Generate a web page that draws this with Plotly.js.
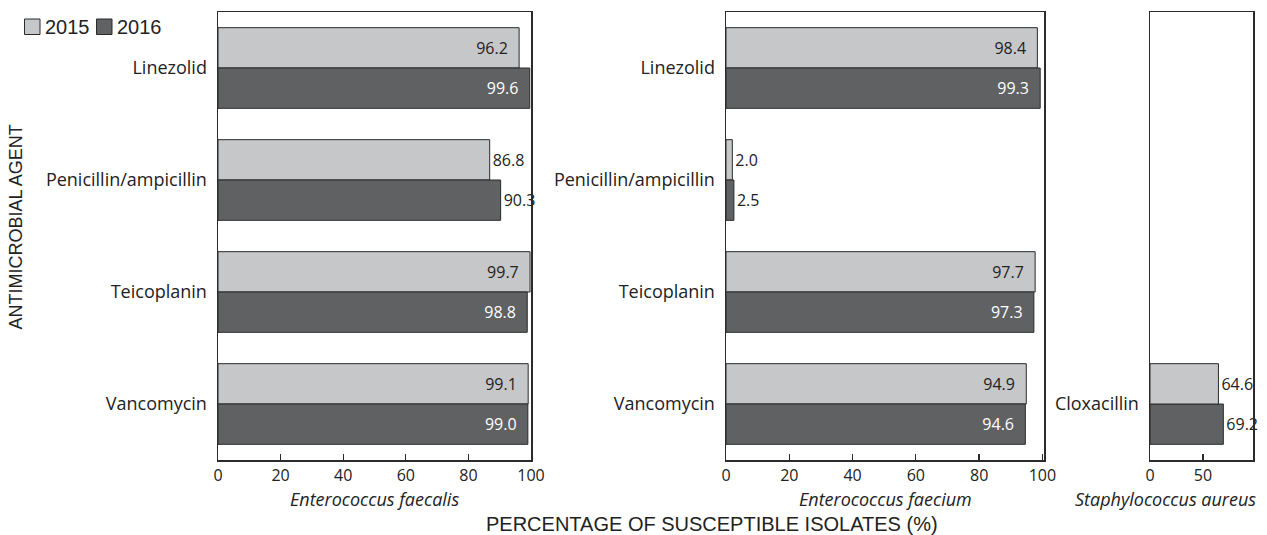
<!DOCTYPE html>
<html>
<head>
<meta charset="utf-8">
<script src="https://cdn.plot.ly/plotly-3.0.1.min.js"></script>
<style>html,body{margin:0;padding:0;background:#fff;}#chart{width:1267px;height:535px;}</style>
</head>
<body>
<div id="chart"></div>
<script>
// ---- data ----
const categories = ['Linezolid', 'Penicillin/ampicillin', 'Teicoplanin', 'Vancomycin'];
const faecalis2015 = [96.2, 86.8, 99.7, 99.1];
const faecalis2016 = [99.6, 90.3, 98.8, 99.0];
const faecium2015 = [98.4, 2.0, 97.7, 94.9];
const faecium2016 = [99.3, 2.5, 97.3, 94.6];
const aureusCategories = ['Cloxacillin'];
const aureus2015 = [64.6];
const aureus2016 = [69.2];
const seriesNames = ['2015', '2016'];
const panelTitles = ['Enterococcus faecalis', 'Enterococcus faecium', 'Staphylococcus aureus'];
const xTickValues = [0, 20, 40, 60, 80, 100];
const xTickValuesAureus = [0, 50];

// ---- styles ----
const W = 1267, H = 535;
const LIGHT = '#c6c7c9', DARK = '#606163', EDGE = '#2b2b2b';
const FONT = 'Open Sans, Noto Sans, sans-serif';
const SANS = 'Liberation Sans, Arial, sans-serif';

function pos(vals, thr) { return vals.map(v => v >= thr ? 'inside' : 'outside'); }
function txt(vals, thr) { return vals.map(v => v.toFixed(1) + (v >= thr ? '\u00a0\u00a0' : '')); }

function barTrace(x, y, name, isDark, xa, ya, thr) {
  return {
    type: 'bar', orientation: 'h', x: x, y: y, name: name,
    xaxis: xa, yaxis: ya, showlegend: false,
    marker: {color: isDark ? DARK : LIGHT, line: {color: EDGE, width: 1}},
    text: txt(x, thr), texttemplate: '%{text}', textposition: pos(x, thr),
    insidetextanchor: 'end', constraintext: 'none', cliponaxis: false,
    insidetextfont: {family: FONT, size: 16, color: isDark ? '#ffffff' : '#222222'},
    outsidetextfont: {family: FONT, size: 16, color: '#222222'},
    hoverinfo: 'x+y'
  };
}

const THR = 94;
const traces = [
  barTrace(faecalis2015, categories, seriesNames[0], false, 'x', 'y', THR),
  barTrace(faecalis2016, categories, seriesNames[1], true, 'x', 'y', THR),
  barTrace(faecium2015, categories, seriesNames[0], false, 'x2', 'y2', THR),
  barTrace(faecium2016, categories, seriesNames[1], true, 'x2', 'y2', THR),
  // panel 3 uses a normal (non-reversed) axis, so the 2016 trace goes first to sit below 2015
  barTrace(aureus2016, aureusCategories, seriesNames[1], true, 'x3', 'y3', 101),
  barTrace(aureus2015, aureusCategories, seriesNames[0], false, 'x3', 'y3', 101)
];

const ydom = [(H - 460) / H, (H - 12) / H];
function xax(domain, range, tickvals, anchor) {
  return {
    domain: domain, range: range, anchor: anchor, tickvals: tickvals,
    ticks: 'inside', ticklen: 6, tickwidth: 1.3, tickcolor: EDGE,
    showline: true, linecolor: EDGE, linewidth: 1.5, mirror: true,
    showgrid: false, zeroline: false, fixedrange: true,
    ticklabelstandoff: 0,
    tickfont: {family: FONT, size: 16, color: '#222'}
  };
}
function yax(anchor, catarr, reversed) {
  return {
    domain: ydom, anchor: anchor, type: 'category',
    showline: true, linecolor: EDGE, linewidth: 1.5, mirror: true,
    showgrid: false, zeroline: false, ticks: '', fixedrange: true,
    ticklabelstandoff: 6,
    tickfont: {family: FONT, size: 18, color: '#222'},
    categoryorder: 'array', categoryarray: catarr,
    range: reversed ? [3.5, -0.5] : [-0.5, 3.5]
  };
}

function panelTitle(text, xpx, anchor) {
  return {text: '<i>' + text + '</i>', xref: 'paper', yref: 'paper',
          x: xpx / W, y: (H - 499) / H, xanchor: anchor, yanchor: 'middle', showarrow: false,
          font: {family: FONT, size: 18, color: '#222'}};
}

// legend key (drawn as swatches + text labels)
function legendBox(x0, color) {
  return {type: 'rect', xref: 'paper', yref: 'paper',
          x0: x0 / W, x1: (x0 + 15.5) / W, y0: (H - 34.5) / H, y1: (H - 19) / H,
          fillcolor: color, line: {color: EDGE, width: 1}};
}
function legendText(text, x0) {
  return {text: text, xref: 'paper', yref: 'paper', x: x0 / W, y: (H - 27) / H,
          xanchor: 'left', yanchor: 'middle', showarrow: false,
          font: {family: SANS, size: 20, color: '#222'}};
}

const layout = {
  width: W, height: H,
  margin: {l: 0, r: 0, t: 0, b: 0},
  paper_bgcolor: '#fff', plot_bgcolor: '#fff',
  barmode: 'group', bargap: 0.28, bargroupgap: 0,
  font: {family: FONT, color: '#222'},
  showlegend: false,
  xaxis: xax([218 / W, 531 / W], [0, 100], xTickValues, 'y'),
  xaxis2: xax([726 / W, 1044 / W], [0, 100.5], xTickValues, 'y2'),
  xaxis3: xax([1150 / W, 1253 / W], [0, 97.2], xTickValuesAureus, 'y3'),
  yaxis: yax('x', categories, true),
  yaxis2: yax('x2', categories, true),
  yaxis3: yax('x3', aureusCategories, false),
  shapes: [legendBox(24.5, LIGHT), legendBox(96.5, DARK)],
  annotations: [
    legendText(seriesNames[0], 43),
    legendText(seriesNames[1], 115),
    panelTitle(panelTitles[0], 374.5, 'center'),
    panelTitle(panelTitles[1], 885, 'center'),
    panelTitle(panelTitles[2], 1258, 'right'),
    {text: 'PERCENTAGE OF SUSCEPTIBLE ISOLATES (%)', xref: 'paper', yref: 'paper',
     x: 711.5 / W, y: (H - 523.5) / H, xanchor: 'center', yanchor: 'middle', showarrow: false,
     font: {family: SANS, size: 20, color: '#222'}},
    {text: 'ANTIMICROBIAL AGENT', xref: 'paper', yref: 'paper', textangle: -90,
     x: 15.5 / W, y: (H - 227) / H, xanchor: 'center', yanchor: 'middle', showarrow: false,
     font: {family: SANS, size: 18, color: '#222'}}
  ]
};

Plotly.newPlot('chart', traces, layout, {displayModeBar: false, staticPlot: true});
</script>
</body>
</html>
